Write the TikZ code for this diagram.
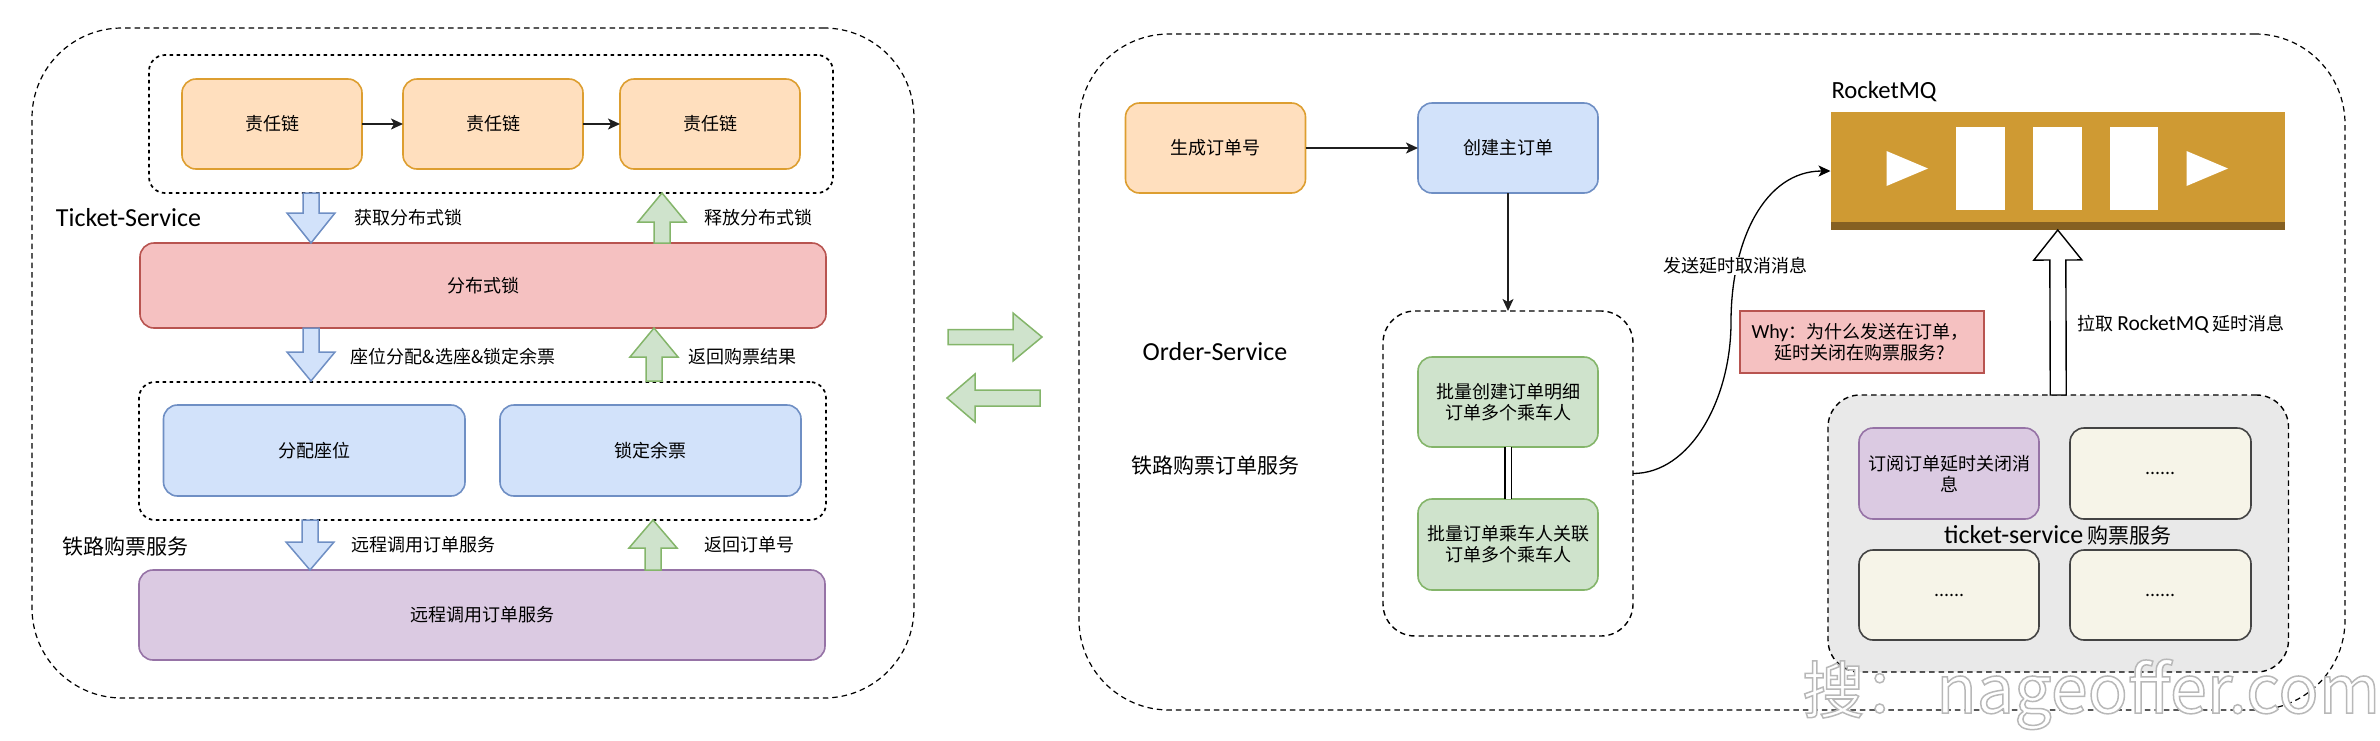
\documentclass[tikz,border=0pt]{standalone}
\usepackage{fontspec}
\setmainfont{Noto Sans CJK SC}
\newfontfamily\latinhand{Carlito}
\usetikzlibrary{arrows.meta,calc}
\definecolor{cOrF}{HTML}{FFDFBE}\definecolor{cOrS}{HTML}{DD9E30}
\definecolor{cBlF}{HTML}{D2E2FA}\definecolor{cBlS}{HTML}{6F8FC4}
\definecolor{cGrF}{HTML}{CFE3CC}\definecolor{cGrS}{HTML}{84B56A}
\definecolor{cReF}{HTML}{F5C1C1}\definecolor{cReS}{HTML}{B85450}
\definecolor{cPuF}{HTML}{DBCAE2}\definecolor{cPuS}{HTML}{9673A6}
\definecolor{cCrF}{HTML}{F6F4E8}\definecolor{cCrS}{HTML}{444444}
\definecolor{cMq}{HTML}{CF9A33}\definecolor{cMqD}{HTML}{856022}
\definecolor{cGy}{HTML}{E9E9E9}
\tikzset{
  x=1pt,y=-1pt,
  box/.style={rectangle,rounded corners=14pt,line width=1.6pt,inner sep=0pt,outer sep=0pt,align=center,font=\fontsize{18}{21}\selectfont},
  orangebox/.style={box,fill=cOrF,draw=cOrS},
  bluebox/.style={box,fill=cBlF,draw=cBlS},
  greenbox/.style={box,fill=cGrF,draw=cGrS},
  redbox/.style={box,fill=cReF,draw=cReS},
  purplebox/.style={box,fill=cPuF,draw=cPuS},
  creambox/.style={box,fill=cCrF,draw=cCrS},
  whybox/.style={box,fill=cReF,draw=cReS,sharp corners},
  mqbox/.style={box,fill=cMq,sharp corners},
  outerdash/.style={box,draw=black,line width=1.2pt,dash pattern=on 5.5pt off 4pt,rounded corners=90pt},
  groupdot/.style={box,draw=black,line width=1.7pt,dash pattern=on 3.5pt off 3.5pt,rounded corners=16pt},
  groupdash/.style={box,draw=black,line width=1.4pt,dash pattern=on 5.5pt off 4pt,rounded corners=32pt},
  label/.style={inner sep=0pt,outer sep=0pt,align=center,font=\fontsize{18}{21}\selectfont},
  biglabel/.style={label,font=\fontsize{21}{25}\selectfont},
  handlabel/.style={label,font=\latinhand\fontsize{26}{30}\selectfont},
  conn/.style={draw=black!88,line width=1.6pt,-{Stealth[length=12pt,width=11pt,inset=3pt]}},
  bblue/.style={fill=cBlF,draw=cBlS,line width=1.5pt,line join=miter},
  bgreen/.style={fill=cGrF,draw=cGrS,line width=1.5pt,line join=miter},
  bwhite/.style={fill=white,draw=black,line width=1.4pt,line join=miter},
}
% box by its corners: style, name, x1, y1, x2, y2, text
\newcommand\cornerbox[7]{%
  \pgfmathsetmacro\cbw{#5-#3}\pgfmathsetmacro\cbh{#6-#4}%
  \node[#1,minimum width=\cbw pt,minimum height=\cbh pt] (#2) at ({(#3+#5)/2},{(#4+#6)/2}) {#7};}
% block arrow: style, from, to, head length, head half width, shaft half width
\newcommand\blockarrow[6]{%
  \coordinate (ah) at ($(#3)!#4pt!(#2)$);
  \draw[#1] ($(#2)!#6pt!90:(#3)$) -- ($(ah)!#6pt!90:(#3)$) -- ($(ah)!#5pt!90:(#3)$) -- (#3)
    -- ($(ah)!#5pt!-90:(#3)$) -- ($(ah)!#6pt!-90:(#3)$) -- ($(#2)!#6pt!-90:(#3)$) -- cycle;}
\begin{document}
\begin{tikzpicture}
\useasboundingbox (0,0) rectangle (2380,740);
% ---------- left panel
\cornerbox{outerdash}{leftouter}{32}{28}{914}{698}{}
\cornerbox{groupdot}{chaingroup}{149}{55}{833}{193}{}
\cornerbox{orangebox}{chaina}{182}{79}{362}{169}{责任链}
\cornerbox{orangebox}{chainb}{403}{79}{583}{169}{责任链}
\cornerbox{orangebox}{chainc}{620}{79}{800}{169}{责任链}
\draw[conn] (chaina) -- (chainb);
\draw[conn] (chainb) -- (chainc);
\cornerbox{redbox}{lock}{140}{243}{826}{328}{分布式锁}
\cornerbox{groupdot}{seatgroup}{139}{382}{826}{520}{}
\cornerbox{bluebox}{seat}{163.5}{405}{465}{496}{分配座位}
\cornerbox{bluebox}{stock}{500}{405}{801}{496}{锁定余票}
\cornerbox{purplebox}{remote}{139}{570}{825}{660}{远程调用订单服务}
\coordinate (a1s) at (311,193); \coordinate (a1e) at (311,243);
\coordinate (g1s) at (662,243); \coordinate (g1e) at (662,193);
\coordinate (a2s) at (311,328); \coordinate (a2e) at (311,381);
\coordinate (g2s) at (654,381); \coordinate (g2e) at (654,328);
\coordinate (a3s) at (310,520); \coordinate (a3e) at (310,570);
\coordinate (g3s) at (653,570); \coordinate (g3e) at (653,520);
\blockarrow{bblue}{a1s}{a1e}{30}{24}{8}
\blockarrow{bgreen}{g1s}{g1e}{29}{24}{8}
\blockarrow{bblue}{a2s}{a2e}{29}{24}{8}
\blockarrow{bgreen}{g2s}{g2e}{29}{24}{8}
\blockarrow{bblue}{a3s}{a3e}{28}{24}{8}
\blockarrow{bgreen}{g3s}{g3e}{28}{24}{8}
\node[handlabel] (tsvc) at (128.5,218) {Ticket-Service};
\node[biglabel] (rail) at (125,547) {铁路购票服务};
\node[label] (l1) at (408,218) {获取分布式锁};
\node[label] (l2) at (758,218) {释放分布式锁};
\node[label] (l3) at (453,357) {座位分配\&选座\&锁定余票};
\node[label] (l4) at (742.5,357) {返回购票结果};
\node[label] (l5) at (423.5,545) {远程调用订单服务};
\node[label] (l6) at (749,545) {返回订单号};
% ---------- middle arrows
\coordinate (mrs) at (948,337); \coordinate (mre) at (1042,337);
\coordinate (mls) at (1040,398); \coordinate (mle) at (947,398);
\blockarrow{bgreen}{mrs}{mre}{29}{24}{7.5}
\blockarrow{bgreen}{mls}{mle}{28}{24}{8}
% ---------- right panel
\cornerbox{outerdash}{rightouter}{1079}{34}{2345}{710}{}
\cornerbox{orangebox}{genid}{1125.5}{103}{1305.5}{193}{生成订单号}
\cornerbox{bluebox}{mainorder}{1418}{103}{1598}{193}{创建主订单}
\cornerbox{groupdash}{detailgroup}{1383}{311}{1633}{636}{}
\cornerbox{greenbox}{detail}{1418}{357}{1598}{447}{批量创建订单明细\\订单多个乘车人}
\cornerbox{greenbox}{passenger}{1418}{499}{1598}{590}{批量订单乘车人关联\\订单多个乘车人}
\draw[conn] (genid) -- (mainorder);
\draw[conn] (mainorder) -- (detailgroup);
\draw[double=white,double distance=5pt,draw=black,line width=1.2pt] (detail) -- (passenger);
\node[handlabel] (osvc) at (1215,352) {Order-Service};
\node[biglabel] (orail) at (1215,466) {铁路购票订单服务};
% queue
\cornerbox{mqbox}{mq}{1830.5}{112}{2285}{230}{}
\fill[cMqD] (mq.south west) rectangle ([yshift=8pt]mq.south east);
\fill[white] (1956,127) rectangle (2005,210);
\fill[white] (2033,127) rectangle (2082,210);
\fill[white] (2110,127) rectangle (2158,210);
\fill[white] (1886.5,151) -- (1928,168.5) -- (1886.5,186) -- cycle;
\fill[white] (2186.5,151) -- (2228,168.5) -- (2186.5,186) -- cycle;
\node[handlabel,font=\latinhand\fontsize{24.7}{28}\selectfont] (mqname) at (1884,92) {RocketMQ};
% ticket service
\cornerbox{groupdash,fill=cGy}{tsgroup}{1828}{395}{2288.5}{672}{}
\cornerbox{purplebox}{sub}{1859}{428}{2039}{519}{订阅订单延时关闭消\\息}
\cornerbox{creambox}{cra}{2070}{428}{2251}{519}{......}
\cornerbox{creambox}{crb}{1859}{550}{2039}{640}{......}
\cornerbox{creambox}{crc}{2070}{550}{2251}{640}{......}
\node[label,font=\fontsize{21}{24}\selectfont] (tsname) at (2058,535) {{\latinhand\fontsize{26}{28}\selectfont ticket-service} 购票服务};
\blockarrow{bwhite}{tsgroup.north}{mq.south}{30}{24}{8}
\node[label,font=\fontsize{18}{21}\selectfont] (pull) at (2181,324) {拉取 {\latinhand\fontsize{21.5}{24}\selectfont RocketMQ} 延时消息};
% curve
\draw[black,line width=1.3pt,-{Stealth[length=12pt,width=11pt,inset=3pt]}]
  (detailgroup.east) .. controls (1690,473.5) and (1731,400) .. (1731,322)
         .. controls (1731,240) and (1765,171) .. (mq.west);
\node[label,fill=white,inner sep=1pt] (send) at (1735.5,266) {发送延时取消消息};
\cornerbox{whybox}{why}{1740}{311}{1984}{373}{}
\node[inner sep=0pt,align=center,font=\fontsize{18}{21}\selectfont] (whytext) at ([xshift=-2pt]why.center) {{\latinhand\fontsize{20}{21}\selectfont Why}：为什么发送在订单，\\延时关闭在购票服务?};
% watermark
\node[anchor=base west,inner sep=0pt,font=\fontsize{62}{70}\selectfont] (wm) at (1802,713)
  {\special{pdf:code q 2 Tr 0.72 0.72 0.72 RG 1 1 1 rg 1.5 w}搜：\hspace{10pt}{\fontsize{66.5}{70}\selectfont nageoffer.com}\special{pdf:code Q}};
\end{tikzpicture}
\end{document}
